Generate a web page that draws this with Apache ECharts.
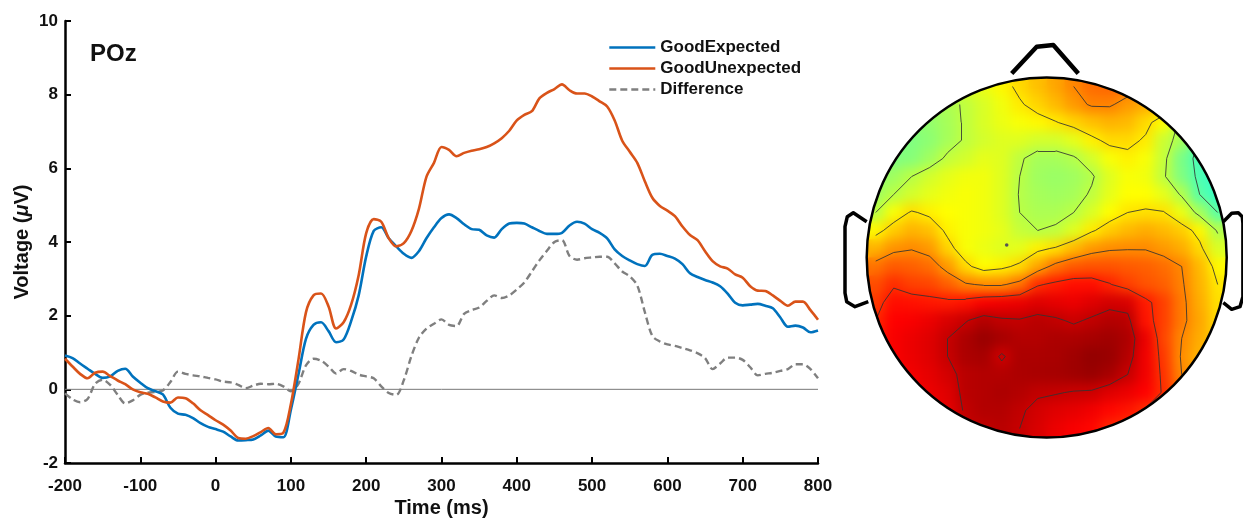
<!DOCTYPE html>
<html><head><meta charset="utf-8">
<script src="https://cdn.jsdelivr.net/npm/echarts@6/dist/echarts.min.js"></script>
<style>
html,body{margin:0;padding:0;background:#fff;}
#topoBase,#topo,#main{position:absolute;left:0;top:0;width:1243px;height:523px;}
#topo{filter:blur(6px);}
</style>
</head><body>
<div id="topoBase"></div><div id="topo"></div><div id="main"></div>
<script>
// ---- ERP data ----
const timeMs = [-200,-190,-180,-170,-160,-150,-140,-130,-120,-110,-100,-90,-80,-70,-60,-50,-40,-30,-20,-10,0,10,20,30,40,50,60,70,80,90,100,110,120,130,140,150,160,170,180,190,200,210,220,230,240,250,260,270,280,290,300,310,320,330,340,350,360,370,380,390,400,410,420,430,440,450,460,470,480,490,500,510,520,530,540,550,560,570,580,590,600,610,620,630,640,650,660,670,680,690,700,710,720,730,740,750,760,770,780,790,800];
const goodExpected = [0.92,0.85,0.70,0.56,0.42,0.31,0.35,0.50,0.56,0.35,0.18,0.03,-0.05,-0.14,-0.50,-0.66,-0.69,-0.78,-0.92,-1.02,-1.08,-1.15,-1.28,-1.39,-1.38,-1.36,-1.25,-1.12,-1.28,-1.30,-0.55,0.40,1.37,1.75,1.82,1.58,1.28,1.35,1.85,2.55,3.61,4.30,4.40,4.10,3.88,3.68,3.57,3.75,4.10,4.40,4.65,4.75,4.65,4.48,4.35,4.33,4.18,4.12,4.35,4.50,4.52,4.50,4.40,4.30,4.22,4.22,4.25,4.45,4.55,4.50,4.35,4.25,4.10,3.80,3.62,3.50,3.40,3.35,3.65,3.68,3.62,3.55,3.40,3.15,3.05,2.97,2.90,2.80,2.60,2.35,2.28,2.30,2.32,2.27,2.20,1.95,1.70,1.73,1.68,1.55,1.60];
const goodUnexpected = [0.83,0.62,0.42,0.30,0.45,0.48,0.36,0.24,0.14,0.00,-0.08,-0.12,-0.22,-0.33,-0.36,-0.22,-0.24,-0.38,-0.57,-0.70,-0.84,-0.96,-1.12,-1.32,-1.34,-1.27,-1.16,-1.05,-1.22,-1.18,-0.40,0.80,2.09,2.55,2.60,2.25,1.65,1.82,2.30,3.10,4.24,4.62,4.55,4.10,3.88,3.97,4.30,4.90,5.77,6.15,6.58,6.50,6.33,6.42,6.48,6.52,6.58,6.68,6.82,7.02,7.30,7.45,7.55,7.90,8.05,8.15,8.28,8.12,8.03,8.03,7.95,7.82,7.68,7.30,6.75,6.45,6.15,5.65,5.20,4.98,4.85,4.70,4.42,4.19,4.05,3.75,3.48,3.34,3.28,3.12,3.03,2.80,2.68,2.67,2.55,2.40,2.27,2.38,2.38,2.15,1.89];
const difference = [-0.11,-0.27,-0.35,-0.26,0.15,0.26,0.12,-0.15,-0.38,-0.30,-0.15,-0.09,-0.07,-0.03,0.20,0.48,0.42,0.38,0.35,0.31,0.27,0.21,0.19,0.12,0.03,0.10,0.15,0.14,0.15,0.08,-0.05,0.15,0.65,0.83,0.78,0.62,0.43,0.55,0.50,0.40,0.35,0.30,0.08,-0.10,-0.15,0.25,0.90,1.40,1.65,1.78,1.90,1.75,1.72,2.05,2.15,2.22,2.40,2.55,2.48,2.55,2.71,2.90,3.20,3.50,3.76,4.00,4.05,3.62,3.52,3.56,3.58,3.60,3.60,3.42,3.20,3.07,2.82,2.10,1.45,1.30,1.22,1.18,1.12,1.06,0.98,0.85,0.55,0.70,0.86,0.86,0.80,0.60,0.38,0.42,0.45,0.50,0.55,0.68,0.68,0.55,0.30];
const seriesNames = ['GoodExpected','GoodUnexpected','Difference'];
const xTicks = [-200,-100,0,100,200,300,400,500,600,700,800];
const yTicks = [-2,0,2,4,6,8,10];

// ---- Scalp map values (grid, rows top->bottom, columns left->right; null = outside head) ----
const topoRows = [
 [null,null,null,null,null,1.5,1.7,2.1,2.6,3.0,3.4,3.9,4.3,4.4,4.3,null,null,null,null,null],
 [null,null,null,0.6,0.7,1.0,1.4,1.8,2.3,2.7,3.1,3.6,4.0,4.0,3.6,3.3,3.0,null,null,null],
 [null,null,0.2,0.3,0.6,1.0,1.4,1.7,1.9,2.1,2.35,2.7,3.0,3.2,3.1,2.6,2.0,0.6,null,null],
 [null,-0.1,0.0,0.2,0.6,1.0,1.3,1.5,1.5,1.3,1.3,1.6,2.2,2.6,2.6,2.3,1.2,0.6,-0.7,null],
 [null,0.0,0.1,0.5,1.05,1.3,1.6,1.5,1.0,0.6,0.6,0.8,1.3,1.9,2.2,1.9,1.1,-0.1,-0.9,null],
 [0.2,0.5,0.9,1.3,1.6,1.8,1.8,1.5,0.9,0.5,0.4,0.5,0.8,1.5,1.9,1.8,1.0,0.0,-0.8,-1.2],
 [0.5,0.9,1.3,1.6,1.8,1.9,1.8,1.5,0.85,0.6,0.5,0.6,1.0,1.6,2.0,2.0,1.6,0.8,-0.6,-1.1],
 [0.9,1.9,2.5,2.2,2.0,1.9,1.8,1.5,0.9,0.7,0.7,0.9,1.4,2.0,2.4,2.5,2.45,1.7,0.6,-0.6],
 [2.1,2.8,3.2,3.0,2.2,1.9,1.8,1.6,1.1,0.9,1.0,1.5,2.3,2.8,3.1,3.3,3.1,2.8,2.1,0.8],
 [3.2,3.7,3.85,3.6,2.7,1.9,1.7,1.5,1.6,2.2,2.5,3.1,3.6,3.8,3.85,3.85,3.6,3.3,2.6,1.4],
 [4.2,4.6,4.5,4.3,3.6,2.6,2.0,2.2,2.6,3.4,4.2,4.6,4.7,4.7,4.6,4.5,4.3,3.9,3.1,2.1],
 [4.8,5.3,5.0,4.9,4.5,4.0,3.8,3.8,4.2,5.3,5.6,5.8,5.8,5.45,5.0,4.7,4.5,4.0,3.2,2.4],
 [5.1,5.8,5.75,5.65,5.6,5.75,6.1,6.2,6.3,6.5,6.4,6.3,6.5,6.7,6.6,5.6,5.0,4.1,3.3,2.5],
 [5.4,6.0,6.1,6.3,6.6,6.85,7.2,7.0,6.95,7.1,7.0,6.8,7.0,7.2,7.1,5.7,5.0,4.1,3.4,2.6],
 [5.6,6.1,6.3,6.5,6.9,7.3,7.6,7.4,7.2,7.2,7.3,7.3,7.4,7.5,7.3,6.3,4.9,3.9,3.3,2.7],
 [null,6.1,6.3,6.5,6.9,7.3,7.4,6.8,7.3,7.3,7.35,7.5,7.7,7.6,7.2,6.2,5.1,3.8,3.2,null],
 [null,5.9,6.2,6.4,6.7,7.1,7.2,7.2,7.3,7.35,7.4,7.5,7.6,7.4,6.9,6.2,5.2,3.9,3.3,null],
 [null,null,6.1,6.3,6.5,7.1,7.2,7.3,7.2,7.0,6.95,6.85,6.8,6.5,6.3,6.0,5.3,4.3,null,null],
 [null,null,null,6.2,6.4,7.0,7.2,7.2,7.0,6.7,6.5,6.4,6.2,5.9,5.7,5.3,5.0,null,null,null],
 [null,null,null,null,null,6.9,7.0,7.1,6.9,6.6,6.3,6.1,5.9,5.4,5.2,null,null,null,null,null]
];
const contourLevels = [-0.6,0.9,2.4,3.9,5.4,6.9];
const colorLimits = [-8, 8];
const jet = ['#000080','#0000ff','#0080ff','#00ffff','#80ff80','#ffff00','#ff8000','#ff0000','#800000'];

// ---- layout ----
const FONT = '"Liberation Sans", Arial, sans-serif';
const HEAD = {cx: 1046.7, cy: 257.5, r: 180};
const N = topoRows.length;

const pairs = (ys) => timeMs.map((t, k) => [t, ys[k]]);

const heatData = [];
topoRows.forEach((row, j) => row.forEach((v, i) => { if (v !== null) heatData.push([i, j, v]); }));
const cats = topoRows[0].map((_, i) => String(i));

function contourSegments(grid, level) {
  const segs = [];
  for (let j = 0; j < grid.length - 1; j++) for (let i = 0; i < grid[0].length - 1; i++) {
    const a = grid[j][i], b = grid[j][i+1], c = grid[j+1][i+1], d = grid[j+1][i];
    if (a == null || b == null || c == null || d == null) continue;
    const idx = (a > level ? 8 : 0) | (b > level ? 4 : 0) | (c > level ? 2 : 0) | (d > level ? 1 : 0);
    if (idx === 0 || idx === 15) continue;
    const x0 = i + 0.5, y0 = j + 0.5;
    const T = () => [x0 + (level - a) / (b - a), y0];
    const R = () => [x0 + 1, y0 + (level - b) / (c - b)];
    const B = () => [x0 + (level - d) / (c - d), y0 + 1];
    const L = () => [x0, y0 + (level - a) / (d - a)];
    const avg = (a + b + c + d) / 4;
    const add = (p, q) => segs.push({coords: [p, q]});
    switch (idx) {
      case 1: case 14: add(L(), B()); break;
      case 2: case 13: add(B(), R()); break;
      case 3: case 12: add(L(), R()); break;
      case 4: case 11: add(T(), R()); break;
      case 6: case 9: add(T(), B()); break;
      case 7: case 8: add(L(), T()); break;
      case 5: if (avg > level) { add(L(), T()); add(B(), R()); } else { add(T(), R()); add(L(), B()); } break;
      case 10: if (avg > level) { add(T(), R()); add(L(), B()); } else { add(L(), T()); add(B(), R()); } break;
    }
  }
  return segs;
}
let contourData = [];
contourLevels.forEach(l => { contourData = contourData.concat(contourSegments(topoRows, l)); });

const headGrid = {left: HEAD.cx - HEAD.r, top: HEAD.cy - HEAD.r, width: 2 * HEAD.r, height: 2 * HEAD.r};

// ---- scalp colour layers (sharp base + smoothed copy of the same cells) ----
const topoOption = {
  animation: false,
  grid: headGrid,
  xAxis: {type: 'category', data: cats, show: false},
  yAxis: {type: 'category', data: cats, inverse: true, show: false},
  visualMap: {show: false, min: colorLimits[0], max: colorLimits[1], dimension: 2, inRange: {color: jet}},
  series: [{type: 'heatmap', data: heatData, silent: true, itemStyle: {borderWidth: 0}}]
};
echarts.init(document.getElementById('topoBase')).setOption(topoOption);
echarts.init(document.getElementById('topo')).setOption(topoOption);

// ---- main chart ----
const main = echarts.init(document.getElementById('main'), null, {renderer: 'canvas'});
const cx = HEAD.cx, cy = HEAD.cy, r = HEAD.r;
const axisText = {fontSize: 17, fontWeight: 'bold', color: '#111', fontFamily: FONT};
main.setOption({
  animation: false,
  backgroundColor: 'transparent',
  title: {text: 'POz', left: 90, top: 42, padding: 0, textStyle: {fontSize: 24, fontWeight: 'bold', color: '#111', fontFamily: FONT}},
  legend: {
    data: seriesNames, left: 608, top: 39, padding: 0, orient: 'vertical',
    itemWidth: 46, itemHeight: 14, itemGap: 4,
    itemStyle: {opacity: 0},
    lineStyle: {width: 2.6},
    textStyle: {fontSize: 17, fontWeight: 'bold', color: '#111', fontFamily: FONT}
  },
  grid: [{left: 65, top: 21, width: 753, height: 447}, headGrid],
  xAxis: [{
    type: 'value', gridIndex: 0, min: xTicks[0], max: xTicks[xTicks.length - 1], interval: 100,
    axisLine: {onZero: false, lineStyle: {color: '#000', width: 2.5}},
    axisTick: {inside: true, length: 6, lineStyle: {color: '#000', width: 2}},
    axisLabel: Object.assign({margin: 15}, axisText),
    splitLine: {show: false},
    name: 'Time (ms)', nameLocation: 'middle', nameGap: 35, nameMoveOverlap: false,
    nameTextStyle: {fontSize: 20, fontWeight: 'bold', color: '#111', fontFamily: FONT}
  }, {type: 'value', gridIndex: 1, min: 0, max: N, show: false}],
  yAxis: [{
    type: 'value', gridIndex: 0, min: yTicks[0], max: yTicks[yTicks.length - 1], interval: 2,
    axisLine: {onZero: false, lineStyle: {color: '#000', width: 2.5}},
    axisTick: {inside: true, length: 6, lineStyle: {color: '#000', width: 2}},
    axisLabel: Object.assign({margin: 7}, axisText),
    splitLine: {show: false},
    name: 'Voltage ({i|μ}V)', nameLocation: 'middle', nameGap: 33, nameMoveOverlap: false,
    nameTextStyle: {fontSize: 20, fontWeight: 'bold', color: '#111', fontFamily: FONT,
      rich: {i: {fontSize: 20, fontWeight: 'bold', fontStyle: 'italic', color: '#111', fontFamily: FONT}}}
  }, {type: 'value', gridIndex: 1, min: 0, max: N, inverse: true, show: false}],
  series: [
    {name: 'zero', type: 'line', data: [[xTicks[0], 0], [xTicks[xTicks.length - 1], 0]], symbol: 'none', silent: true, z: 1,
     lineStyle: {color: '#777', width: 1}},
    {name: seriesNames[2], type: 'line', data: pairs(difference), symbol: 'none', smooth: 0.3, z: 2,
     lineStyle: {color: '#7f7f7f', width: 2.4, type: [7, 4]}, itemStyle: {color: '#7f7f7f'}},
    {name: seriesNames[0], type: 'line', data: pairs(goodExpected), symbol: 'none', smooth: 0.3, z: 3,
     lineStyle: {color: '#0072BD', width: 2.6}, itemStyle: {color: '#0072BD'}},
    {name: seriesNames[1], type: 'line', data: pairs(goodUnexpected), symbol: 'none', smooth: 0.3, z: 4,
     lineStyle: {color: '#D95319', width: 2.6}, itemStyle: {color: '#D95319'}},
    {name: 'contours', type: 'lines', coordinateSystem: 'cartesian2d', xAxisIndex: 1, yAxisIndex: 1,
     data: contourData, silent: true, z: 5, lineStyle: {color: '#333', width: 1, opacity: 0.85}}
  ],
  graphic: [
    {type: 'ring', shape: {cx: cx, cy: cy, r: 232, r0: r + 0.5}, style: {fill: '#fff'}, z: 100, silent: true},
    {type: 'circle', shape: {cx: cx, cy: cy, r: r}, style: {fill: 'none', stroke: '#000', lineWidth: 2.5}, z: 102, silent: true},
    {type: 'polyline', shape: {points: [[cx - 35, cy - 184], [cx - 10, cy - 210.8], [cx + 6.6, cy - 212.5], [cx + 31.6, cy - 184]]},
     style: {fill: 'none', stroke: '#000', lineWidth: 4.5, lineJoin: 'round'}, z: 102, silent: true},
    {type: 'polyline', shape: {points: [[cx - 180, cy - 35.8], [cx - 193.4, cy - 44.8], [cx - 199.4, cy - 40.8], [cx - 201.7, cy - 30.8], [cx - 201.7, cy + 35.5], [cx - 200, cy + 44.2], [cx - 191.7, cy + 49.2], [cx - 178.4, cy + 44.2]]},
     style: {fill: 'none', stroke: '#000', lineWidth: 3.5, lineJoin: 'round'}, z: 102, silent: true},
    {type: 'polyline', shape: {points: [[cx + 176.6, cy - 35.8], [cx + 185, cy - 44.2], [cx + 191.6, cy - 44.8], [cx + 195.6, cy - 40.8], [cx + 196.2, cy - 34.2], [cx + 196.2, cy + 39.2], [cx + 193.3, cy + 49.2], [cx + 185, cy + 51.8], [cx + 176.6, cy + 45.2]]},
     style: {fill: 'none', stroke: '#000', lineWidth: 3.5, lineJoin: 'round'}, z: 102, silent: true},
    {type: 'circle', shape: {cx: cx - 40, cy: cy - 12.5, r: 1.8}, style: {fill: '#555'}, z: 102, silent: true}
  ]
});
</script>
</body></html>
